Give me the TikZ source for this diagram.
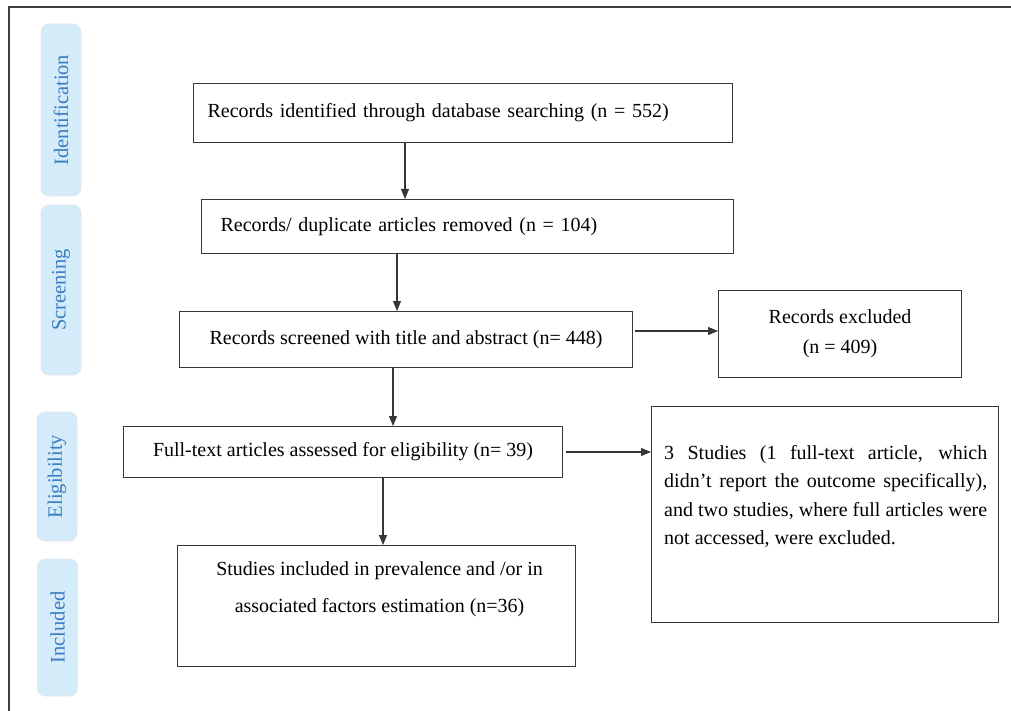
\documentclass[tikz,border=0pt]{standalone}
\usepackage{fontspec}
\setmainfont{Liberation Serif}
\usetikzlibrary{arrows.meta,calc}
\definecolor{pillfill}{RGB}{212,235,250}
\definecolor{pilltext}{RGB}{58,124,194}
\definecolor{pillline}{RGB}{225,232,238}
\definecolor{boxline}{RGB}{55,55,55}
\begin{document}
\begin{tikzpicture}[x=1pt,y=-1pt,
  box/.style={draw=boxline,line width=1.1pt,inner sep=0pt,anchor=north west,font=\fontsize{20pt}{24pt}\selectfont},
  txt/.style={inner sep=0pt,font=\fontsize{20pt}{24pt}\selectfont},
  pill/.style={draw=pillline,line width=0.8pt,fill=pillfill,rounded corners=8pt,rotate=90,
    text=pilltext,font=\fontsize{20.5pt}{22pt}\selectfont,minimum height=40pt,inner sep=0pt},
  arr/.style={draw=boxline,line width=1.1pt,-{Triangle[length=10pt,width=8pt]}}]
\useasboundingbox (0,0) rectangle (1011,711);
\fill[white] (0,0) rectangle (1011,711);
% outer frame
\draw[line width=1.4pt,draw=black!75] (9,711) -- (9,7) -- (1011,7);
% phase labels
\node[pill,minimum width=172pt] (p1) at (61,110) {Identification};
\node[pill,minimum width=170pt] (p2) at (61,290) {Screening};
\node[pill,minimum width=129pt] (p3) at (57,476.5) {Eligibility};
\node[pill,minimum width=137pt] (p4) at (57.5,627.5) {Included};
% boxes
\node[box,minimum width=539pt,minimum height=59pt,inner xsep=14pt,text width=511pt,align=left] (b1) at (193,83)
  {Records identified through database searching (n = 552)};
\node[box,minimum width=532pt,minimum height=54pt,inner xsep=19pt,text width=494pt,align=left] (b2) at (201,199)
  {Records/ duplicate articles removed (n = 104)};
\node[box,minimum width=453pt,minimum height=56pt,align=center] (b3) at (179,311)
  {Records screened with title and abstract (n= 448)};
\node[box,minimum width=439pt,minimum height=51pt,align=center] (b4) at (123,426)
  {Full-text articles assessed for eligibility (n= 39)};
\node[box,minimum width=243pt,minimum height=87pt,align=center,font=\fontsize{20pt}{30pt}\selectfont] (ex) at (718,290)
  {Records excluded\\(n = 409)};
\node[box,minimum width=398pt,minimum height=121pt] (b5) at (177,545) {};
\node[txt,align=center,font=\fontsize{20pt}{37pt}\selectfont,anchor=north] (t5) at ($(b5.north)+(3,16)$)
  {Studies included in prevalence and /or in\\associated factors estimation (n=36)};
\node[box,minimum width=347pt,minimum height=216pt] (b6) at (651,406) {};
\node[txt,anchor=north west,text width=323pt,align=justify,font=\fontsize{20pt}{28.5pt}\selectfont] (t6) at ($(b6.north west)+(13,39)$)
  {3 Studies (1 full-text article, which\linebreak didn’t report the outcome specifically),\linebreak and two studies, where full articles were\linebreak not accessed, were excluded.};
% connectors
\draw[arr] (b1.south -| 405,0) -- (b2.north -| 405,0);
\draw[arr] (b2.south -| 397,0) -- (b3.north -| 397,0);
\draw[arr] (b3.south -| 393,0) -- (b4.north -| 393,0);
\draw[arr] (b4.south -| 383,0) -- (b5.north -| 383,0);
\draw[arr] ($(b3.east |- 0,331)+(2,0)$) -- (ex.west |- 0,331);
\draw[arr] ($(b4.east |- 0,452)+(3,0)$) -- (b6.west |- 0,452);
\end{tikzpicture}
\end{document}
